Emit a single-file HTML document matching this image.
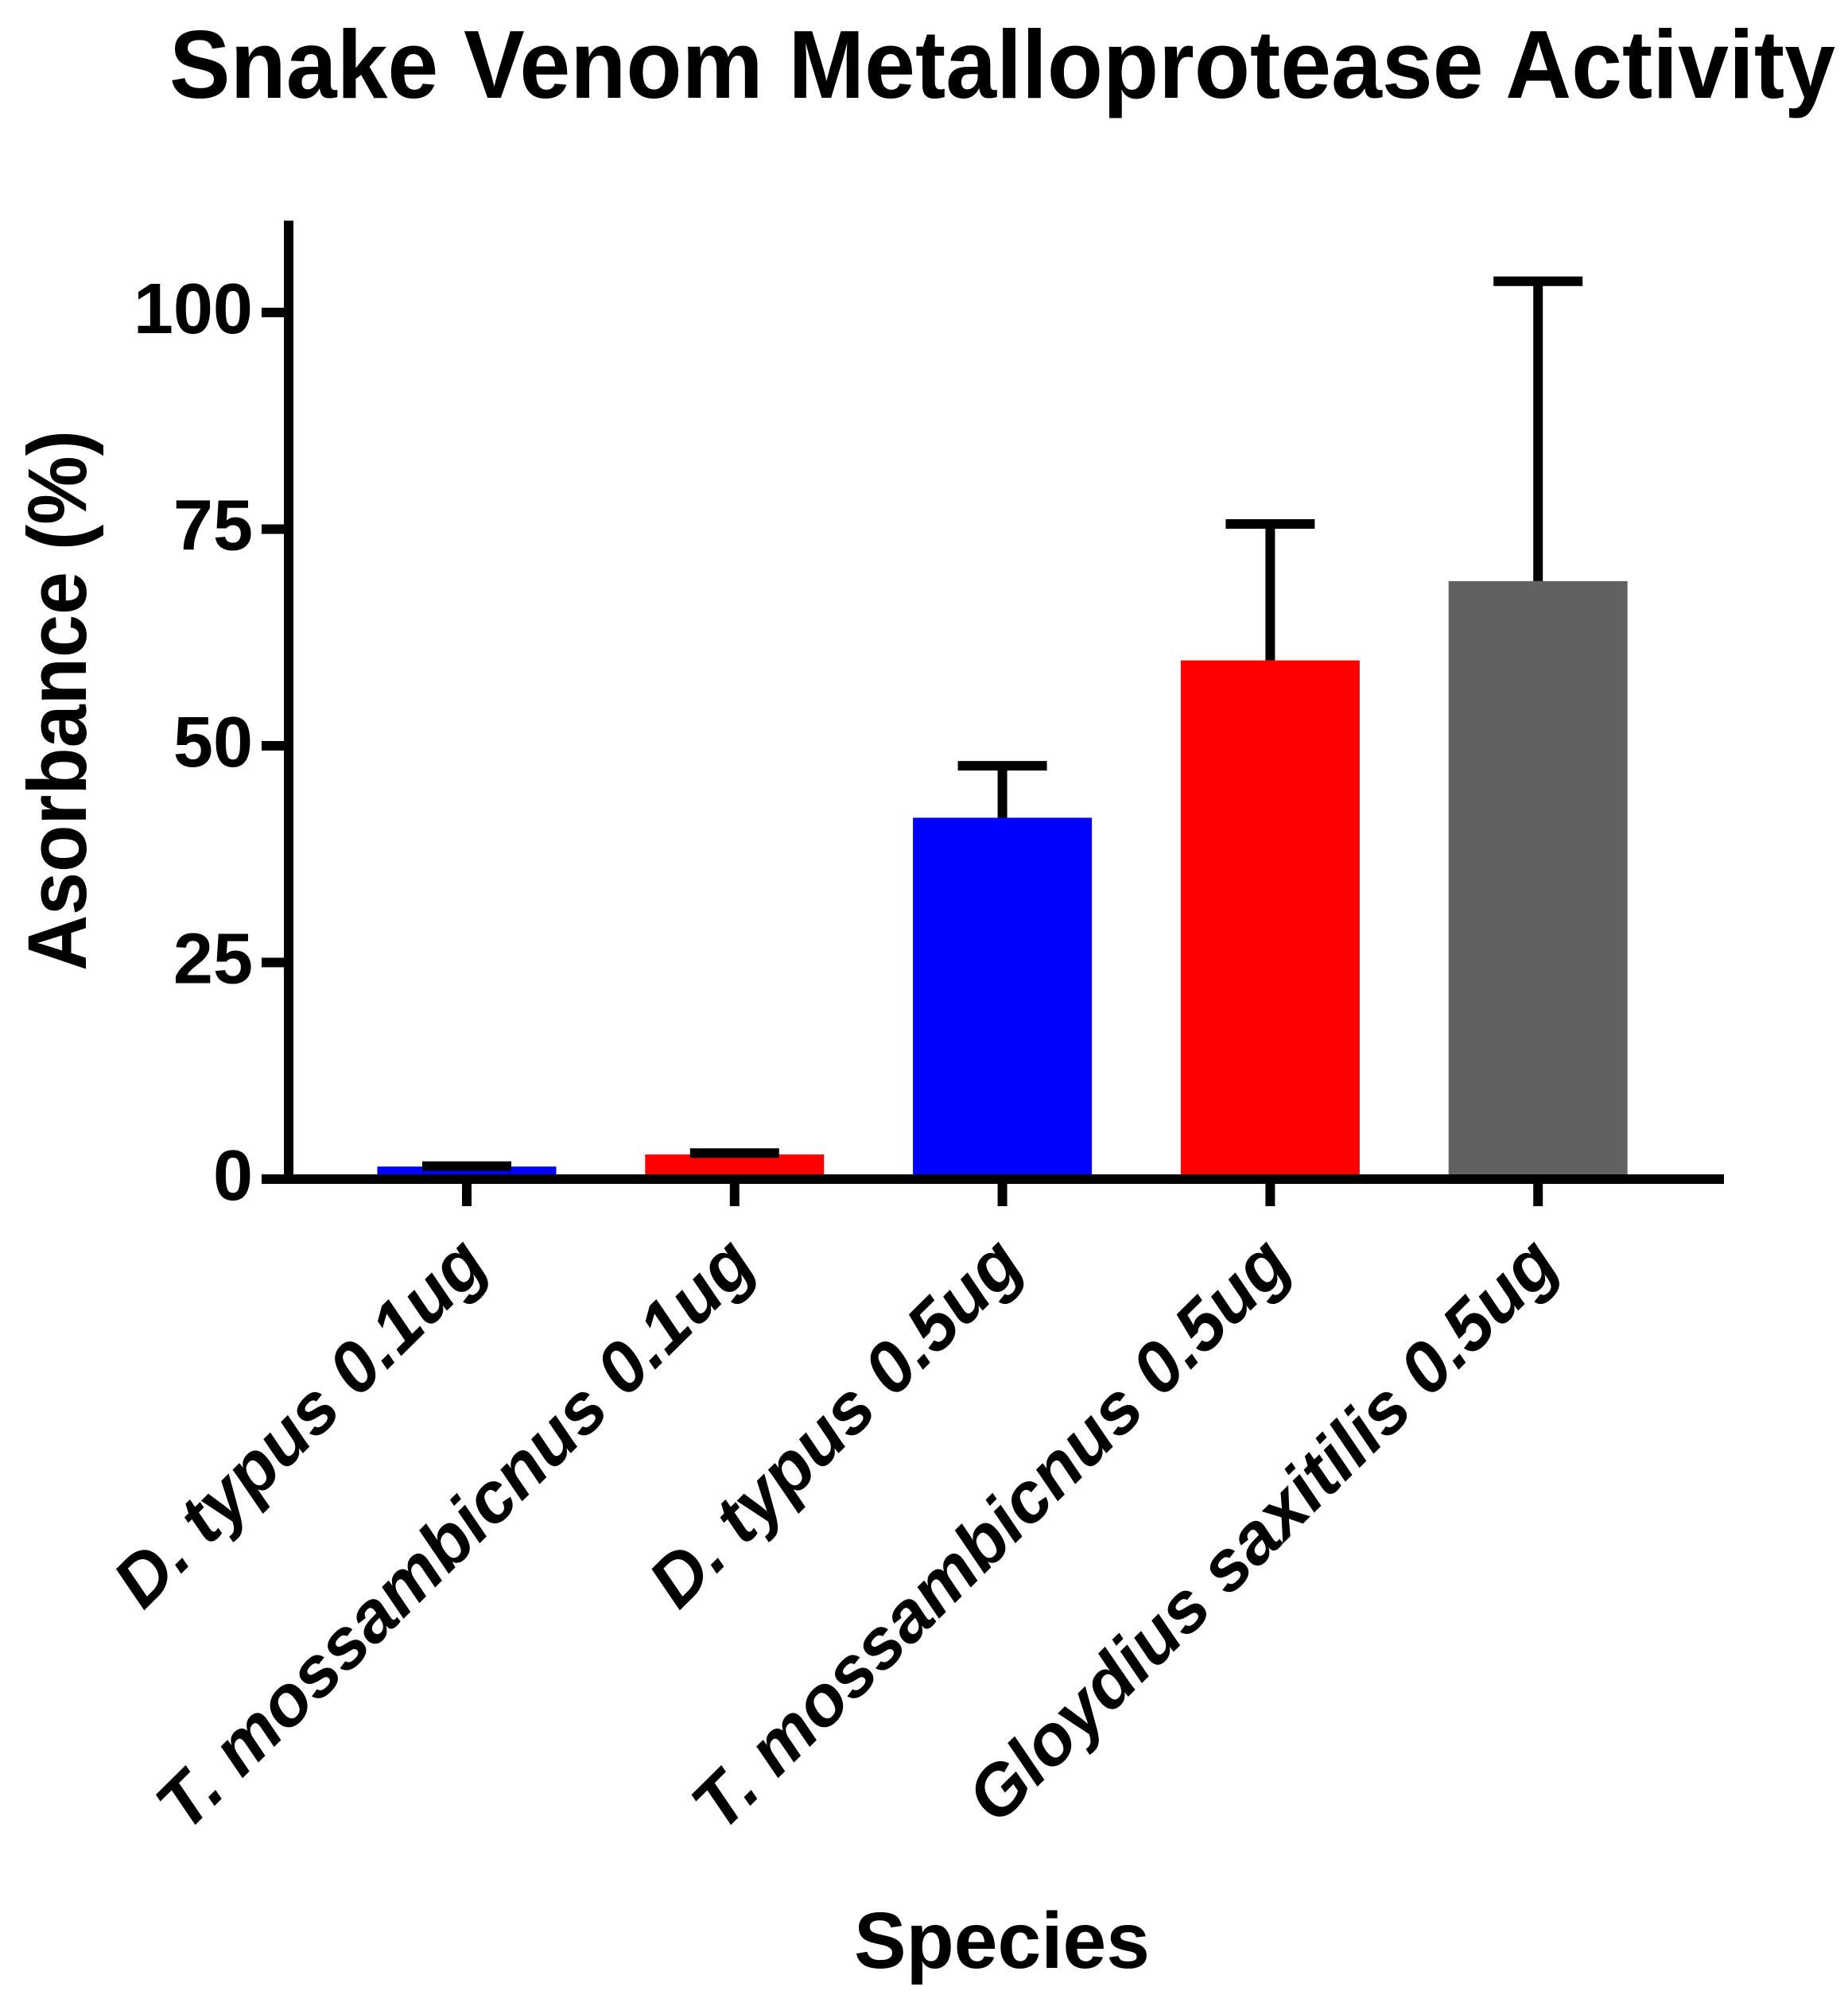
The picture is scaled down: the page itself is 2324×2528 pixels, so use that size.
<!DOCTYPE html>
<html lang="en">
<head>
<meta charset="utf-8">
<title>Snake Venom Metalloprotease Activity</title>
<style>
html,body{margin:0;padding:0;background:#fff;}
svg{display:block;}
text{font-family:"Liberation Sans",Arial,sans-serif;font-weight:bold;fill:#000;}
</style>
</head>
<body>
<svg id="chart" xmlns="http://www.w3.org/2000/svg" width="2324" height="2528" viewBox="0 0 2324 2528">
  <rect x="0" y="0" width="2324" height="2528" fill="#ffffff"/>
  <text x="213" y="123" font-size="122" textLength="2095" lengthAdjust="spacingAndGlyphs">Snake Venom Metalloprotease Activity</text>
  <text transform="translate(108,1221) rotate(-90)" font-size="105" textLength="680" lengthAdjust="spacingAndGlyphs">Asorbance (%)</text>
  <text x="1260" y="2475" font-size="100" text-anchor="middle" textLength="372" lengthAdjust="spacingAndGlyphs">Species</text>
  <g id="bars"></g>
  <g id="errors"></g>
  <g id="axes"></g>
</svg>
<script>
const categories = ["D. typus 0.1ug", "T. mossambicnus 0.1ug", "D. typus 0.5ug", "T. mossambicnus 0.5ug", "Gloydius saxitilis 0.5ug"];
const means = [1.45, 2.85, 41.7, 59.85, 69.0];
const errorTops = [1.5, 3.0, 47.7, 75.6, 103.6];
const barColors = ["#0000ff", "#ff0000", "#0000ff", "#ff0000", "#616161"];
const yTicks = [0, 25, 50, 75, 100];

const NS = "http://www.w3.org/2000/svg";
const yAxisTopValue = 110.6;
function yScale(v) { return 1483 - v * 10.9; }
function xScale(i) { return 587 + i * 336.8; }
const barWidth = 225;
const capWidth = 112;
const stroke = 12;

function make(tag, attrs, parent, text) {
  const el = document.createElementNS(NS, tag);
  for (const k in attrs) el.setAttribute(k, attrs[k]);
  if (text !== undefined) el.textContent = text;
  parent.appendChild(el);
  return el;
}

const barsG = document.getElementById("bars");
const errorsG = document.getElementById("errors");
const axesG = document.getElementById("axes");

categories.forEach(function (cat, i) {
  const cx = xScale(i);
  const top = yScale(means[i]);
  const errTop = yScale(errorTops[i]);

  const bar = make("rect", { x: cx - barWidth / 2, y: top, width: barWidth, height: yScale(0) - top, fill: barColors[i] }, barsG);
  
  

  const stem = make("line", { x1: cx, x2: cx, y1: top, y2: errTop, stroke: "#000", "stroke-width": stroke }, errorsG);
  
  

  const cap = make("line", { x1: cx - capWidth / 2, x2: cx + capWidth / 2, y1: errTop, y2: errTop, stroke: "#000", "stroke-width": stroke }, errorsG);
  
  

  const tick = make("line", { x1: cx, x2: cx, y1: yScale(0), y2: 1517, stroke: "#000", "stroke-width": stroke }, axesG);
  
  

  const lx = cx + 30, ly = 1594;
  const label = make("text", { transform: "translate(" + lx + "," + ly + ") scale(1.01,1) rotate(-45)", "font-size": 89.5, "font-style": "italic", "text-anchor": "end" }, axesG, cat);
  
  
});

const yAxis = make("line", { x1: 363, x2: 363, y1: yScale(yAxisTopValue), y2: yScale(0), stroke: "#000", "stroke-width": stroke }, axesG);



const xAxis = make("line", { x1: 329, x2: 2168, y1: yScale(0), y2: yScale(0), stroke: "#000", "stroke-width": stroke }, axesG);



yTicks.forEach(function (t) {
  const y = yScale(t);
  const tick = make("line", { x1: 329, x2: 360, y1: y, y2: y, stroke: "#000", "stroke-width": stroke }, axesG);
  
  

  const label = make("text", { x: 318, y: y + 26, "font-size": 90, "text-anchor": "end" }, axesG, String(t));
  
  
});
</script>
</body>
</html>
